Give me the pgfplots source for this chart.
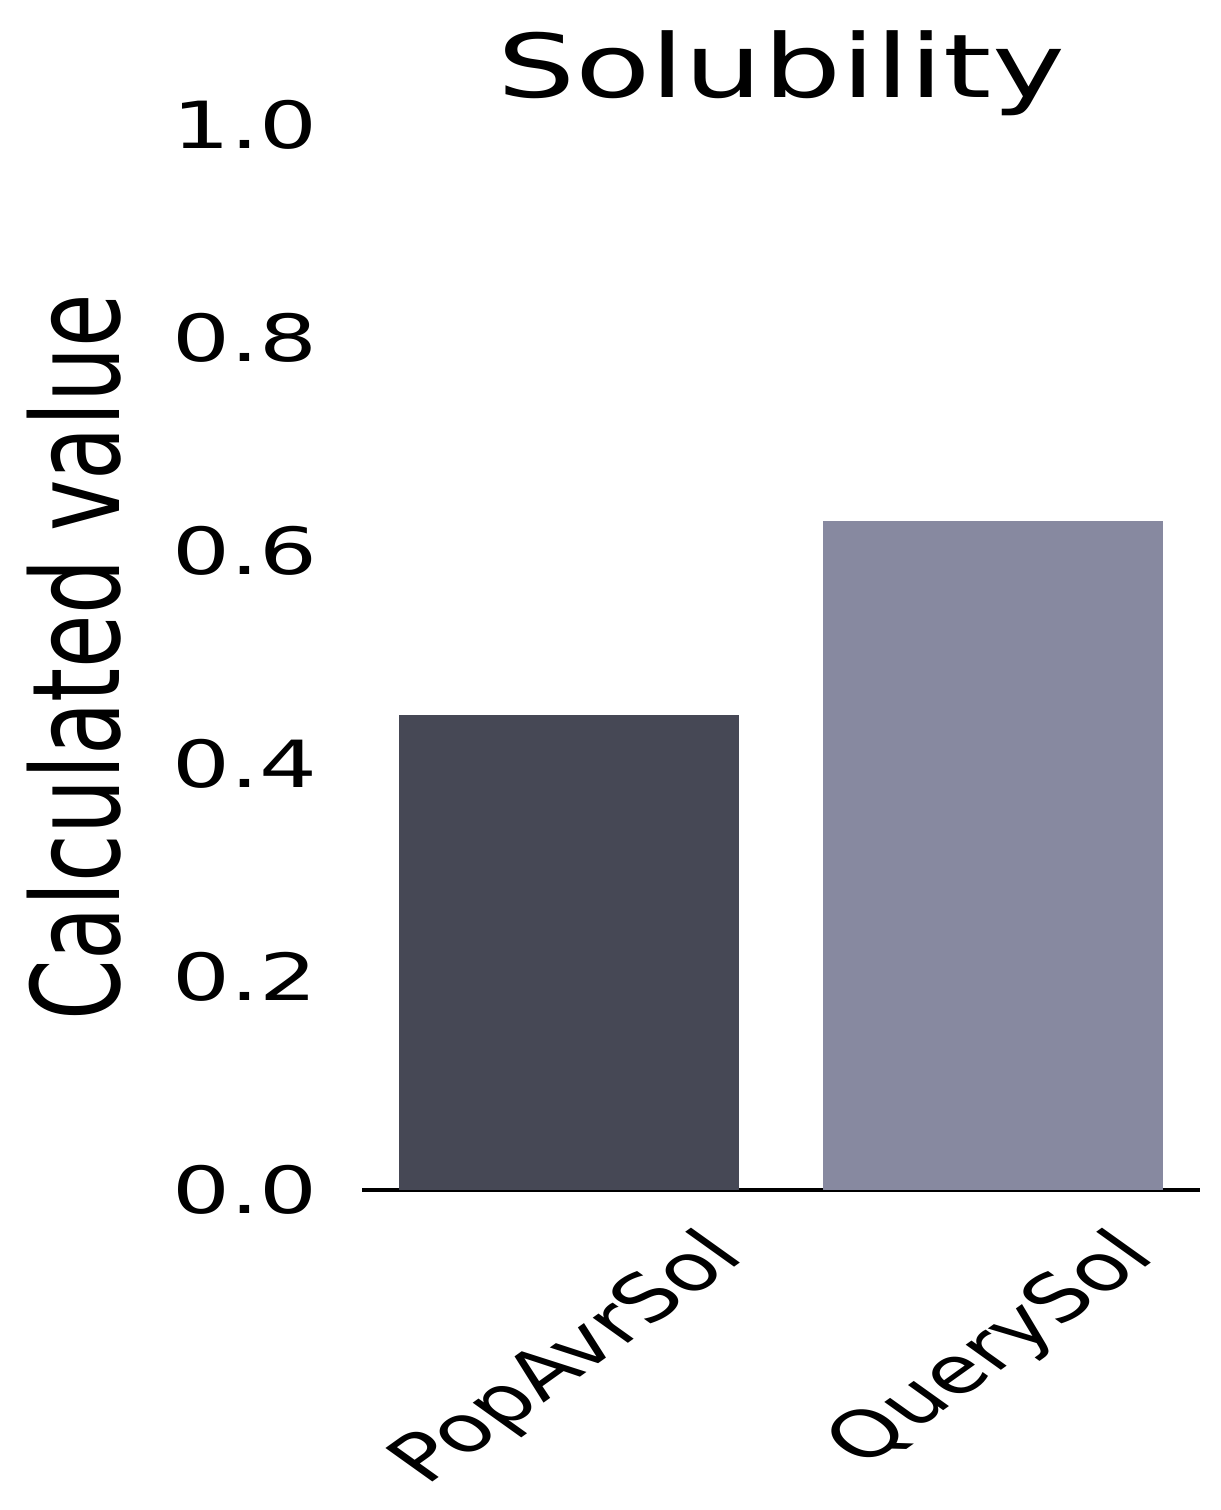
\documentclass[border=0pt]{standalone}
\usepackage{fontspec}
\setmainfont{DejaVu Sans}
\usepackage{graphicx}
\usepackage{pgfplots}
\pgfplotsset{compat=1.18}
\definecolor{darkbar}{RGB}{70,72,85}
\definecolor{lightbar}{RGB}{135,137,160}
\newcommand\sx[1]{\scalebox{1.4}[1]{#1}}
\newcommand\rl[1]{\scalebox{1.4}[1]{\rotatebox{45}{#1}}}
\begin{document}
\begin{tikzpicture}
\useasboundingbox (0,0) rectangle (244pt,302pt);
\begin{axis}[
  at={(72.4pt,64pt)}, anchor=south west,
  scale only axis, width=167.6pt, height=213pt,
  xmin=-0.488, xmax=1.488, ymin=0, ymax=1,
  clip=false,
  axis x line*=bottom, axis y line*=left,
  x axis line style={-, line width=0.7pt, black},
  y axis line style={draw=none},
  major tick length=0pt,
  tick style={draw=none},
  xtick={0,1},
  xticklabels={\rl{PopAvrSol},\rl{QuerySol}},
  ytick={0,0.2,0.4,0.6,0.8,1},
  yticklabel={\sx{\pgfmathprintnumber[fixed,fixed zerofill,precision=1,assume math mode=true]{\tick}}},
  ticklabel style={font=\fontsize{13}{15}\selectfont},
  yticklabel style={anchor=east, inner sep=0pt, xshift=-8.8pt},
  xticklabel style={anchor=north, inner sep=0pt, yshift=-6.5pt},
  title={\sx{Solubility}},
  title style={at={(0.5,1)}, anchor=base, yshift=-0.6pt, inner sep=0pt, font=\fontsize{17.6}{20}\selectfont},
  ylabel={\scalebox{1}[1.4]{Calculated value}},
  ylabel style={at={(axis description cs:-0.2888,0.5)}, anchor=base, inner sep=0pt, font=\fontsize{17.4}{20}\selectfont},
]
\addplot[ybar, bar width=0.8, bar shift=0pt, fill=darkbar, draw=none] coordinates {(0,0.446)};
\addplot[ybar, bar width=0.8, bar shift=0pt, fill=lightbar, draw=none] coordinates {(1,0.628)};
\end{axis}
\end{tikzpicture}
\end{document}
